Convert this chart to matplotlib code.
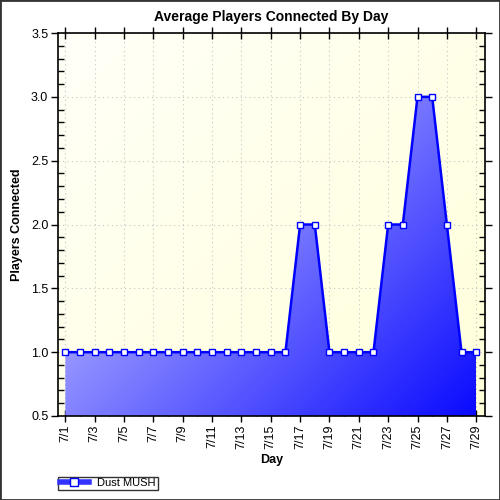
import matplotlib
matplotlib.use('Agg')
import matplotlib.pyplot as plt
import numpy as np
from matplotlib.lines import Line2D
from matplotlib.patches import Rectangle

plt.rcParams['font.family'] = ['Liberation Sans', 'DejaVu Sans']

# data
days = ['7/%d' % d for d in range(1, 30)]
players = [1, 1, 1, 1, 1, 1, 1, 1, 1, 1, 1, 1, 1, 1, 1, 1,
           2, 2, 1, 1, 1, 1, 2, 2, 3, 3, 2, 1, 1]
series_name = 'Dust MUSH'
title = 'Average Players Connected By Day'
y_ticks = [0.5, 1.0, 1.5, 2.0, 2.5, 3.0, 3.5]

x = np.arange(len(days))
y = np.array(players, dtype=float)

fig = plt.figure(figsize=(5, 5), dpi=100)
ax = fig.add_axes([0.116, 0.168, 0.854, 0.766])

xlo, xhi = -0.5, len(days) - 1 + 0.6
ylo, yhi = 0.5, 3.5
ax.set_xlim(xlo, xhi)
ax.set_ylim(ylo, yhi)

# pale yellow background gradient
gx, gy = np.meshgrid(np.linspace(0, 1, 200), np.linspace(0, 1, 200))
g = (gx + gy) / 2
bg = np.zeros((200, 200, 3))
bg[..., 0] = 1.0
bg[..., 1] = 1.0
bg[..., 2] = (248 - 30 * g) / 255
ax.imshow(bg, extent=[xlo, xhi, ylo, yhi], aspect='auto', origin='upper', zorder=0)

# gradient area fill, lavender top-left to blue bottom-right
lvl = np.clip(225 - 121 * gx - 94 * gy, 0, 255) / 255
fc = np.zeros((200, 200, 3))
fc[..., 0] = lvl
fc[..., 1] = lvl
fc[..., 2] = 1.0
poly = ax.fill_between(x, ylo, y, facecolor='none', edgecolor='none')
im = ax.imshow(fc, extent=[x[0], x[-1], ylo, y.max()], aspect='auto', origin='upper', zorder=2)
path = poly.get_paths()[0]
im.set_clip_path(path, transform=ax.transData)

ax.plot(x, y, color='#0000ff', lw=1.8, marker='s', ms=5, mfc='white',
        mec='#0000ff', mew=1.0, zorder=4)

# grid
ax.set_yticks(y_ticks)
ax.set_yticks(np.arange(0.5, 3.51, 0.1), minor=True)
ax.set_yticklabels(['%.1f' % v for v in y_ticks], fontsize=9)
ax.set_xticks(x[::2])
ax.set_xticks(x, minor=True)
ax.set_xticklabels(days[::2], rotation=90, fontsize=9)
ax.grid(which='major', color='#c4c4c4', linestyle=(0, (1, 3)), linewidth=0.8, zorder=1)
for gl in ax.get_xgridlines() + ax.get_ygridlines():
    gl.set_zorder(1)

ax.tick_params(axis='y', which='major', direction='out', length=5, right=True)
ax.tick_params(axis='y', which='minor', direction='in', length=4, right=True)
ax.tick_params(axis='x', which='major', direction='inout', length=8, top=True)
ax.tick_params(axis='x', which='minor', direction='in', length=4, top=False)
ax.tick_params(axis='both', which='both', width=1.0, pad=2)

for s in ax.spines.values():
    s.set_linewidth(1.2)
    s.set_zorder(5)

ax.set_title(title, fontsize=10, fontweight='bold', pad=9)
ax.set_xlabel('Day', fontsize=9, fontweight='bold', labelpad=4)
ax.set_ylabel('Players Connected', fontsize=9, fontweight='bold', labelpad=6)

handle = Line2D([0], [0], color='#3333ff', lw=4, marker='s', ms=6,
                mfc='white', mec='#0000ff', mew=1.0)
leg = fig.legend([handle], [series_name], loc='lower left',
                 bbox_to_anchor=(0.116, 0.02), fontsize=8, frameon=True,
                 fancybox=False, edgecolor='black', borderpad=0.15,
                 handlelength=2.6, handletextpad=0.8, borderaxespad=0)
leg.get_frame().set_linewidth(1.0)

fig.patches.append(Rectangle((0, 0), 1, 1, transform=fig.transFigure,
                             fill=False, edgecolor='#333333', lw=2))

fig.savefig('out.png', dpi=100)
